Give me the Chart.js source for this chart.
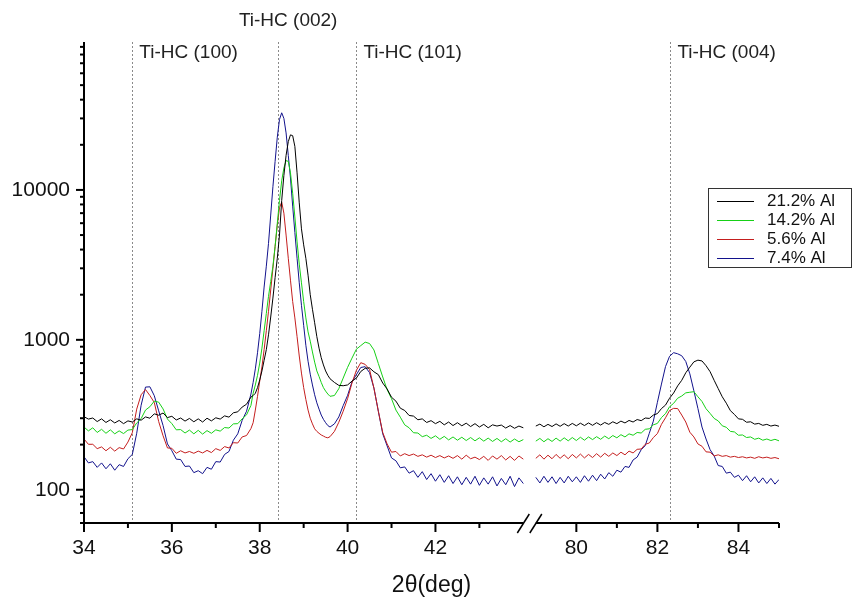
<!DOCTYPE html>
<html>
<head>
<meta charset="utf-8">
<script src="https://cdn.jsdelivr.net/npm/chart.js@4.4.1/dist/chart.umd.min.js"></script>
<style>
  body { margin: 0; background: #fff; }
</style>
</head>
<body>
<canvas id="xrdChart" width="854" height="598"></canvas>
<script>
// 2theta grid, left part of the broken axis (34-44 deg)
var angleLeft = [
  34.0,34.1,34.2,34.3,34.4,34.5,34.6,34.7,34.8,34.9,35.0,35.1,35.2,35.3,35.4,35.5,35.6,35.7,35.8,35.9,
  36.0,36.1,36.2,36.3,36.4,36.5,36.6,36.7,36.8,36.9,37.0,37.1,37.2,37.3,37.4,37.5,37.6,37.7,37.8,
  37.85,37.9,37.95,38.0,38.05,38.1,38.15,38.2,38.25,38.3,38.35,38.4,38.45,38.5,38.55,38.6,38.65,38.7,
  38.75,38.8,38.85,38.9,38.95,39.0,39.05,39.1,39.15,39.2,39.25,39.3,39.35,39.4,39.45,39.5,39.55,39.6,
  39.7,39.8,39.9,40.0,40.1,40.2,40.3,40.4,40.5,40.6,40.7,40.8,40.9,41.0,41.1,41.2,41.3,41.4,41.5,41.6,
  41.7,41.8,41.9,42.0,42.1,42.2,42.3,42.4,42.5,42.6,42.7,42.8,42.9,43.0,43.1,43.2,43.3,43.4,43.5,43.6,
  43.7,43.8,43.9,44.0
];
// right part (79-85 deg)
var angleRight = [
  79.0,79.1,79.2,79.3,79.4,79.5,79.6,79.7,79.8,79.9,80.0,80.1,80.2,80.3,80.4,80.5,80.6,80.7,80.8,80.9,
  81.0,81.1,81.2,81.3,81.4,81.5,81.6,81.7,81.8,81.9,82.0,82.1,82.2,82.3,82.4,82.5,82.6,82.7,82.8,82.9,
  83.0,83.1,83.2,83.3,83.4,83.5,83.6,83.7,83.8,83.9,84.0,84.1,84.2,84.3,84.4,84.5,84.6,84.7,84.8,84.9,
  85.0
];

var seriesNames = ['21.2% Al', '14.2% Al', '5.6% Al', '7.4% Al'];

// intensities (counts)
var al212Left = [
  307,296,301,285,297,281,293,279,290,276,288,283,297,291,306,300,321,314,325,303,
  309,292,301,287,299,284,297,283,300,288,302,296,311,305,326,331,356,372,415,
  425,440,480,540,620,730,860,1080,1420,1900,2600,3500,5000,8500,12500,17000,21000,23300,
  23000,19500,13000,8200,5500,4300,3500,2700,2000,1600,1300,1050,880,760,680,620,580,550,
  520,497,494,500,530,556,615,646,650,612,586,515,470,414,390,350,338,313,310,293,
  297,281,289,276,286,271,283,268,280,267,278,264,276,262,273,259,271,266,270,258,
  268,257,266,259
];
var al142Left = [
  262,247,259,241,253,238,251,236,247,237,250,252,279,298,340,358,390,384,346,296,
  276,251,252,239,250,236,249,235,248,238,251,246,260,258,275,276,297,316,365,
  440,500,580,700,880,1150,1500,1950,2450,3100,4200,6000,8500,11500,14000,15700,15500,13000,
  9500,6600,4500,3200,2400,1800,1400,1130,980,830,710,620,570,520,480,455,435,420,
  425,472,556,655,755,866,915,965,945,856,695,565,465,405,340,305,271,259,240,239,
  226,231,220,229,217,227,215,225,214,224,213,223,212,222,211,221,210,220,209,219,
  208,218,209,216
];
var al56Left = [
  218,201,201,188,193,182,192,181,191,187,208,240,345,430,466,425,382,285,229,190,
  189,175,182,176,180,175,181,176,183,177,188,183,194,190,206,205,225,230,256,
  280,340,420,530,660,860,1150,1550,2150,3000,4200,5800,7600,8300,7000,5000,3500,2500,
  1800,1400,1050,780,600,480,400,340,300,275,255,245,238,232,228,224,222,226,
  245,282,334,405,515,626,704,686,634,476,334,241,202,178,180,168,174,169,173,167,
  171,165,170,164,169,163,168,162,169,160,170,161,165,159,167,157,168,160,169,158,
  167,157,168,160
];
var al74Left = [
  166,151,154,141,151,138,149,135,147,143,161,172,238,366,484,486,424,336,268,202,
  182,160,159,143,144,130,134,128,141,137,154,153,172,180,214,236,290,334,435,
  520,640,820,1100,1550,2250,3100,4400,6800,10500,15500,22500,29500,32700,30000,24000,17000,12000,
  7800,5200,3500,2400,1700,1250,920,720,590,500,430,380,345,315,295,280,268,262,
  275,306,364,426,524,586,654,662,604,476,334,236,196,163,156,140,142,129,134,121,
  132,117,128,114,126,112,124,110,122,108,121,109,123,107,120,109,122,106,119,108,
  123,105,120,110
];

var al212Right = [
  266,274,263,273,264,275,265,276,266,277,267,278,268,279,269,280,270,281,273,284,
  276,287,279,290,283,294,289,301,299,315,322,348,367,408,442,493,537,603,657,713,
  732,723,672,613,537,473,417,378,337,318,297,295,282,284,274,277,269,273,266,270,
  265
];
var al142Right = [
  211,220,209,219,210,221,211,222,212,223,213,224,214,225,216,226,217,228,219,230,
  222,233,225,236,231,241,239,253,255,271,277,303,322,358,377,408,422,443,447,451,
  417,388,347,323,299,288,267,261,245,243,231,232,223,225,217,221,214,218,213,217,
  212
];
var al56Right = [
  162,171,160,170,161,172,162,171,161,172,163,173,163,172,164,174,165,175,167,176,
  169,178,171,181,176,186,187,201,205,223,237,273,302,338,349,348,315,283,242,225,
  202,195,179,178,168,171,167,169,165,167,164,166,163,165,162,166,163,165,162,164,
  161
];
var al74Right = [
  121,111,123,112,122,110,121,111,123,113,122,112,124,114,125,115,127,118,130,123,
  135,131,143,141,158,165,185,197,238,287,383,507,663,777,821,807,783,717,593,457,
  348,262,218,185,168,145,143,129,131,121,125,115,124,113,122,111,120,110,119,109,
  117
];

// axis ticks and reference lines
var xMajorTicks = [34, 36, 38, 40, 42, 80, 82, 84];
var xMinorTicks = [35, 37, 39, 41, 43, 81, 83, 85];
var yLabels = [100, 1000, 10000];
var peakPositions = [35.1, 38.42, 40.2, 82.32];
var peakLabels = ['Ti-HC (100)', 'Ti-HC (002)', 'Ti-HC (101)', 'Ti-HC (004)'];

var FONT = '"Liberation Sans", Arial, sans-serif';
var colors = ['#000000', '#16d016', '#c41e1e', '#12128c'];

// broken axis: 34-44 then 79-85 (slightly compressed)
function toAxis(a) {
  return a < 60 ? a - 34 : 11.207 + (a - 80) * 0.9226;
}

function buildPoints(left, right) {
  var pts = [];
  for (var i = 0; i < angleLeft.length; i++) pts.push({x: toAxis(angleLeft[i]), y: left[i]});
  pts.push({x: (toAxis(44) + toAxis(79)) / 2, y: null});
  for (var j = 0; j < angleRight.length; j++) pts.push({x: toAxis(angleRight[j]), y: right[j]});
  return pts;
}

var allLeft = [al212Left, al142Left, al56Left, al74Left];
var allRight = [al212Right, al142Right, al56Right, al74Right];
var datasets = [];
for (var k = 0; k < seriesNames.length; k++) {
  datasets.push({
    label: seriesNames[k],
    data: buildPoints(allLeft[k], allRight[k]),
    borderColor: colors[k],
    borderWidth: 1,
    pointRadius: 0,
    tension: 0,
    spanGaps: false
  });
}

var decor = {
  id: 'decor',
  beforeDatasetsDraw: function(chart) {
    var ctx = chart.ctx, x = chart.scales.x, a = chart.chartArea;
    ctx.save();
    ctx.strokeStyle = '#8a8a8a';
    ctx.lineWidth = 1;
    ctx.setLineDash([2, 2]);
    peakPositions.forEach(function(p) {
      var px = Math.round(x.getPixelForValue(toAxis(p))) + 0.5;
      ctx.beginPath();
      ctx.moveTo(px, a.top);
      ctx.lineTo(px, a.bottom);
      ctx.stroke();
    });
    ctx.restore();
  },
  afterDraw: function(chart) {
    var ctx = chart.ctx, x = chart.scales.x, y = chart.scales.y, a = chart.chartArea;
    ctx.save();
    ctx.strokeStyle = '#000';
    ctx.lineWidth = 2;
    // y axis
    ctx.beginPath();
    ctx.moveTo(a.left, a.top);
    ctx.lineTo(a.left, a.bottom + 1);
    ctx.stroke();
    // x axis with break
    var b1 = x.getPixelForValue(toAxis(44)), b2 = x.getPixelForValue(toAxis(79));
    ctx.beginPath();
    ctx.moveTo(a.left - 1, a.bottom);
    ctx.lineTo(b1, a.bottom);
    ctx.moveTo(b2, a.bottom);
    ctx.lineTo(a.right, a.bottom);
    ctx.stroke();
    ctx.lineWidth = 1.5;
    [b1, b2].forEach(function(b) {
      ctx.beginPath();
      ctx.moveTo(b - 6, a.bottom + 10);
      ctx.lineTo(b + 6, a.bottom - 9);
      ctx.stroke();
    });
    // x ticks
    ctx.lineWidth = 2;
    xMajorTicks.forEach(function(t) {
      var px = x.getPixelForValue(toAxis(t));
      ctx.beginPath(); ctx.moveTo(px, a.bottom); ctx.lineTo(px, a.bottom + 9); ctx.stroke();
    });
    xMinorTicks.forEach(function(t) {
      var px = x.getPixelForValue(toAxis(t));
      ctx.beginPath(); ctx.moveTo(px, a.bottom); ctx.lineTo(px, a.bottom + 5); ctx.stroke();
    });
    // y ticks (log)
    for (var e = 1; e <= 4; e++) {
      for (var m = 1; m <= 9; m++) {
        var v = m * Math.pow(10, e);
        if (v < y.min || v > y.max) continue;
        var py = y.getPixelForValue(v);
        ctx.beginPath();
        ctx.moveTo(a.left, py);
        ctx.lineTo(a.left - (m === 1 ? 8 : 4), py);
        ctx.stroke();
      }
    }
    // peak labels
    ctx.fillStyle = '#222';
    ctx.font = '19px ' + FONT;
    ctx.textBaseline = 'middle';
    ctx.textAlign = 'left';
    peakPositions.forEach(function(p, i) {
      var px = x.getPixelForValue(toAxis(p));
      if (i === 1) {
        ctx.textAlign = 'center';
        ctx.fillText(peakLabels[i], px + 10, 21);
        ctx.textAlign = 'left';
      } else {
        ctx.fillText(peakLabels[i], px + 7, 53);
      }
    });
    // legend box
    ctx.lineWidth = 1;
    ctx.strokeStyle = '#333';
    ctx.strokeRect(708.5, 188.5, 143, 79);
    ctx.font = '17px ' + FONT;
    for (var s = 0; s < seriesNames.length; s++) {
      var ly = 201 + s * 19;
      ctx.strokeStyle = colors[s];
      ctx.beginPath();
      ctx.moveTo(717, ly + 0.5);
      ctx.lineTo(754, ly + 0.5);
      ctx.stroke();
      ctx.fillStyle = '#111';
      ctx.fillText(seriesNames[s], 767, ly);
    }
    ctx.restore();
  }
};

new Chart(document.getElementById('xrdChart'), {
  type: 'line',
  data: { datasets: datasets },
  options: {
    responsive: false,
    animation: false,
    devicePixelRatio: 1,
    layout: { padding: { top: 42, right: 75, left: 0, bottom: 0 } },
    plugins: { legend: { display: false }, tooltip: { enabled: false } },
    scales: {
      x: {
        type: 'linear',
        min: 0,
        max: toAxis(85),
        grid: { display: false, drawTicks: false },
        border: { display: false },
        afterBuildTicks: function(scale) {
          scale.ticks = xMajorTicks.map(function(t) { return { value: toAxis(t) }; });
        },
        afterFit: function(scale) { scale.height = 75; },
        ticks: {
          autoSkip: false,
          maxRotation: 0,
          padding: 13,
          color: '#111',
          font: { family: FONT, size: 21 },
          callback: function(val, idx) { return String(xMajorTicks[idx]); }
        },
        title: {
          display: true,
          text: '2θ(deg)',
          color: '#111',
          font: { family: FONT, size: 23, lineHeight: 1.05 },
          padding: { top: 0, bottom: 0 }
        }
      },
      y: {
        type: 'logarithmic',
        min: 60,
        max: 97000,
        grid: { display: false, drawTicks: false },
        border: { display: false },
        afterFit: function(scale) { scale.width = 84; },
        ticks: {
          autoSkip: false,
          padding: 14,
          color: '#111',
          font: { family: FONT, size: 21 },
          callback: function(v) { return yLabels.indexOf(v) >= 0 ? String(v) : ''; }
        }
      }
    }
  },
  plugins: [decor]
});
</script>
</body>
</html>
